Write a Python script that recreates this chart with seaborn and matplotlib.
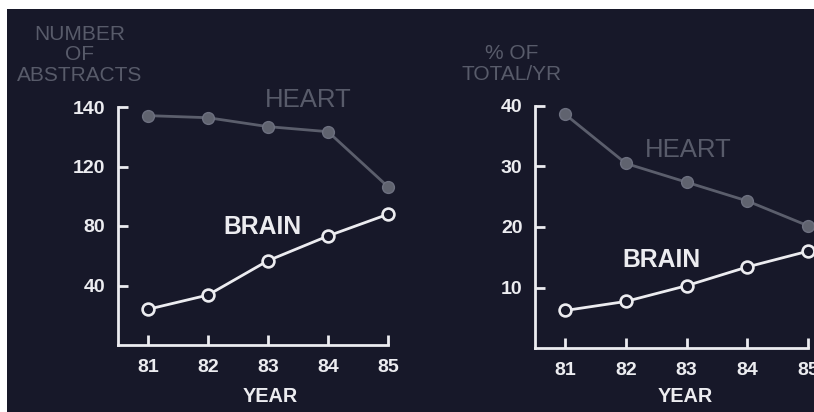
import numpy as np
import matplotlib
matplotlib.use("Agg")
import matplotlib.pyplot as plt
import seaborn as sns
from matplotlib.patches import Rectangle

# -------------------------------
# Data
# -------------------------------
years = [81, 82, 83, 84, 85]

heart_abstracts = [137.1, 136.4, 133.4, 131.7, 106.4]
brain_abstracts = [24.0, 33.6, 56.7, 73.3, 87.9]

heart_pct = [38.6, 30.5, 27.4, 24.3, 20.2]
brain_pct = [6.2, 7.7, 10.3, 13.4, 16.0]

left_yticks = [40, 80, 120, 140]
right_yticks = [10, 20, 30, 40]

# -------------------------------
# Style
# -------------------------------
BG = "#171829"
DIM = "#585b6a"
HEART_C = "#5b5e6c"
WHITE = "#ececf0"

sns.set_theme(style="ticks")
plt.rcParams["font.family"] = ["Liberation Sans", "DejaVu Sans"]

W, H = 814, 412
fig = plt.figure(figsize=(W / 100, H / 100), dpi=100, facecolor="white")
# dark slide background, white scan border on top and left
fig.patches.append(Rectangle((7 / W, 0), 1, 1 - 9 / H, transform=fig.transFigure,
                             facecolor=BG, edgecolor="none", zorder=-5))


def fx(px):
    return px / W


def fy(py):
    return 1 - py / H


# the left axis is stretched above 120
def fwd(v):
    v = np.asarray(v, dtype=float)
    return np.where(v <= 120, v, 120 + 2 * (v - 120))


def inv(t):
    t = np.asarray(t, dtype=float)
    return np.where(t <= 120, t, 120 + (t - 120) / 2)


def style_axes(ax, yticks):
    ax.set_facecolor("none")
    for s in ["top", "right"]:
        ax.spines[s].set_visible(False)
    for s in ["left", "bottom"]:
        ax.spines[s].set_color(WHITE)
        ax.spines[s].set_linewidth(2.0)
    ax.set_xlim(80.5, 85.0)
    ax.set_xticks(years)
    ax.set_xticklabels([str(y) for y in years])
    ax.set_yticks(yticks)
    ax.set_yticklabels([str(t) for t in yticks])
    ax.tick_params(direction="in", length=7, width=2.0, color=WHITE,
                   labelcolor=WHITE, labelsize=14)
    ax.tick_params(axis="y", pad=9)
    ax.tick_params(axis="x", pad=10)
    for lab in ax.get_xticklabels() + ax.get_yticklabels():
        lab.set_fontweight("bold")
    ax.set_xlabel("")
    ax.set_ylabel("")


def draw_series(ax, heart, brain):
    sns.lineplot(x=years, y=heart, ax=ax, color=HEART_C, linewidth=2.0,
                 marker="o", markersize=8.5, markerfacecolor="#60636f",
                 markeredgecolor="#6d7080", markeredgewidth=1.0, clip_on=False)
    sns.lineplot(x=years, y=brain, ax=ax, color=WHITE, linewidth=2.0,
                 marker="o", markersize=8.5, markerfacecolor=BG,
                 markeredgecolor=WHITE, markeredgewidth=1.9, clip_on=False)


# -------------------------------
# Left panel: number of abstracts
# -------------------------------
ax1 = fig.add_axes([fx(118), fy(345), (388 - 118) / W, (345 - 107) / H])
ax1.set_yscale("function", functions=(fwd, inv))
draw_series(ax1, heart_abstracts, brain_abstracts)
ax1.set_ylim(0, 140)
style_axes(ax1, left_yticks)

fig.text(fx(80), fy(55), "NUMBER\nOF\nABSTRACTS", color=DIM, fontsize=15,
         ha="center", va="center", linespacing=1.1)
fig.text(fx(308), fy(100), "HEART", color=DIM, fontsize=18.5,
         ha="center", va="center")
fig.text(fx(262), fy(227), "BRAIN", color=WHITE, fontsize=17.8,
         fontweight="bold", ha="center", va="center")
fig.text(fx(270), fy(397), "YEAR", color=WHITE, fontsize=14.3,
         fontweight="bold", ha="center", va="center")

# -------------------------------
# Right panel: % of total per year
# -------------------------------
ax2 = fig.add_axes([fx(535), fy(348), (808 - 535) / W, (348 - 106) / H])
draw_series(ax2, heart_pct, brain_pct)
ax2.set_ylim(0, 40)
style_axes(ax2, right_yticks)

fig.text(fx(512), fy(64), "% OF\nTOTAL/YR", color=DIM, fontsize=15,
         ha="center", va="center", linespacing=1.1)
fig.text(fx(688), fy(150), "HEART", color=DIM, fontsize=18.5,
         ha="center", va="center")
fig.text(fx(661), fy(260), "BRAIN", color=WHITE, fontsize=17.8,
         fontweight="bold", ha="center", va="center")
fig.text(fx(685), fy(397), "YEAR", color=WHITE, fontsize=14.3,
         fontweight="bold", ha="center", va="center")

fig.savefig("out.png", dpi=100, facecolor=fig.get_facecolor())
